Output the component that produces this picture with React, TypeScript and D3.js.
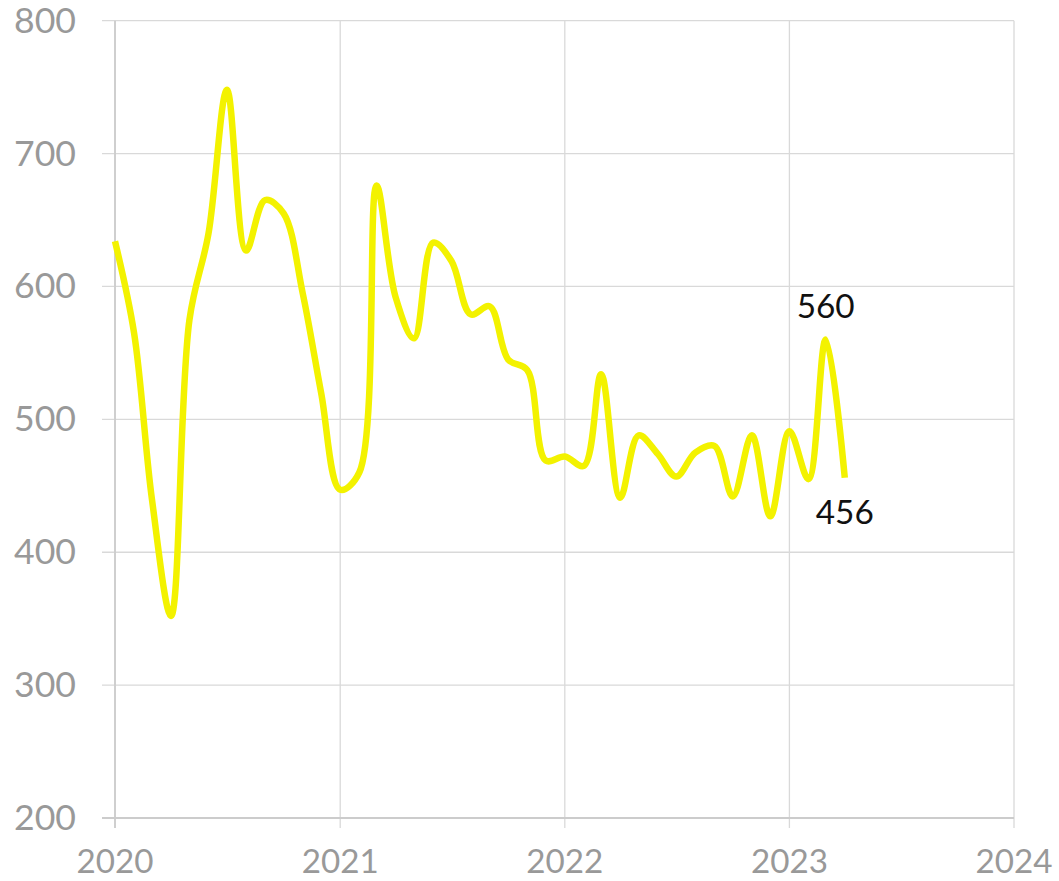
import React, { useRef, useEffect } from "react";
import * as d3 from "d3";

// monthly values, Jan 2020 .. Apr 2023
const months: string[] = [
    "2020-01", "2020-02", "2020-03", "2020-04", "2020-05", "2020-06",
    "2020-07", "2020-08", "2020-09", "2020-10", "2020-11", "2020-12",
    "2021-01", "2021-02", "2021-03", "2021-04", "2021-05", "2021-06",
    "2021-07", "2021-08", "2021-09", "2021-10", "2021-11", "2021-12",
    "2022-01", "2022-02", "2022-03", "2022-04", "2022-05", "2022-06",
    "2022-07", "2022-08", "2022-09", "2022-10", "2022-11", "2022-12",
    "2023-01", "2023-02", "2023-03", "2023-04",
];
const values: number[] = [
    634, 565, 440, 352, 575, 640, 748, 627, 665, 655, 595, 520,
    447, 460, 676, 592, 561, 633, 619, 579, 585, 545, 537, 469,
    472, 465, 534, 441, 488, 474, 457, 475, 480, 442, 488, 427,
    491, 455, 560, 456,
];
const yTicks: number[] = [200, 300, 400, 500, 600, 700, 800];
const xTickYears: number[] = [2020, 2021, 2022, 2023, 2024];
// labelled points: index into the series, and where the label sits
const callouts: { index: number; above: boolean }[] = [
    { index: 38, above: true },
    { index: 39, above: false },
];

const WIDTH = 1059;
const HEIGHT = 881;

const App: React.FC = () => {
    const svgRef = useRef<SVGSVGElement | null>(null);

    useEffect(() => {
        const left = 115;
        const right = 1014;
        const top = 20.7;
        const bottom = 818;
        const parse = d3.timeParse("%Y-%m");
        const data = months.map((m, i) => ({ date: parse(m) as Date, value: values[i] }));

        const svg = d3.select(svgRef.current);
        svg.selectAll("*").remove();

        const x = d3
            .scaleTime()
            .domain([new Date(2020, 0, 1), new Date(2024, 0, 1)])
            .range([left, right]);
        const y = d3.scaleLinear().domain([200, 800]).range([bottom, top]);

        const grid = "#d9d9d9";
        const labelColor = "#999999";
        const font = "Lato, 'DejaVu Sans', sans-serif";

        // horizontal grid + y ticks
        svg.append("g")
            .selectAll("line")
            .data(yTicks)
            .join("line")
            .attr("x1", left - 13)
            .attr("x2", right)
            .attr("y1", (d) => y(d))
            .attr("y2", (d) => y(d))
            .attr("stroke", grid)
            .attr("stroke-width", 1.3);

        // vertical grid + x ticks
        svg.append("g")
            .selectAll("line")
            .data(xTickYears)
            .join("line")
            .attr("x1", (d) => x(new Date(d, 0, 1)))
            .attr("x2", (d) => x(new Date(d, 0, 1)))
            .attr("y1", top)
            .attr("y2", bottom + 10)
            .attr("stroke", grid)
            .attr("stroke-width", 1.3);

        // axis lines
        svg.append("line")
            .attr("x1", left).attr("x2", left)
            .attr("y1", top).attr("y2", bottom + 10)
            .attr("stroke", "#cccccc").attr("stroke-width", 1.8);
        svg.append("line")
            .attr("x1", left - 13).attr("x2", right)
            .attr("y1", bottom).attr("y2", bottom)
            .attr("stroke", "#cccccc").attr("stroke-width", 1.8);

        // y labels
        svg.append("g")
            .selectAll("text")
            .data(yTicks)
            .join("text")
            .attr("x", 76)
            .attr("y", (d) => y(d) + 12)
            .attr("text-anchor", "end")
            .attr("font-family", font)
            .attr("font-size", 34)
            .attr("textLength", 62)
            .attr("lengthAdjust", "spacingAndGlyphs")
            .attr("fill", labelColor)
            .text((d) => d3.format("d")(d));

        // x labels
        svg.append("g")
            .selectAll("text")
            .data(xTickYears)
            .join("text")
            .attr("x", (d) => x(new Date(d, 0, 1)))
            .attr("y", 873)
            .attr("text-anchor", "middle")
            .attr("font-family", font)
            .attr("font-size", 33)
            .attr("textLength", 77)
            .attr("lengthAdjust", "spacingAndGlyphs")
            .attr("fill", labelColor)
            .text((d) => String(d));

        // series
        const line = d3
            .line<{ date: Date; value: number }>()
            .x((d) => x(d.date))
            .y((d) => y(d.value))
            .curve(d3.curveCatmullRom.alpha(0.5));

        svg.append("path")
            .datum(data)
            .attr("d", line)
            .attr("fill", "none")
            .attr("stroke", "#f3f200")
            .attr("stroke-width", 6.5)
            .attr("stroke-linejoin", "round");

        // callouts
        svg.append("g")
            .selectAll("text")
            .data(callouts)
            .join("text")
            .attr("x", (d) => x(data[d.index].date))
            .attr("y", (d) => y(data[d.index].value) + (d.above ? -22 : 46))
            .attr("text-anchor", "middle")
            .attr("font-family", font)
            .attr("font-size", 32)
            .attr("textLength", 58)
            .attr("lengthAdjust", "spacingAndGlyphs")
            .attr("fill", "#111111")
            .text((d) => String(data[d.index].value));

        return () => {
            svg.selectAll("*").remove();
        };
    }, []);

    return (
        <svg
            ref={svgRef}
            width={WIDTH}
            height={HEIGHT}
            style={{ position: "absolute", left: 0, top: 0, background: "#ffffff" }}
        ></svg>
    );
};

export default App;
